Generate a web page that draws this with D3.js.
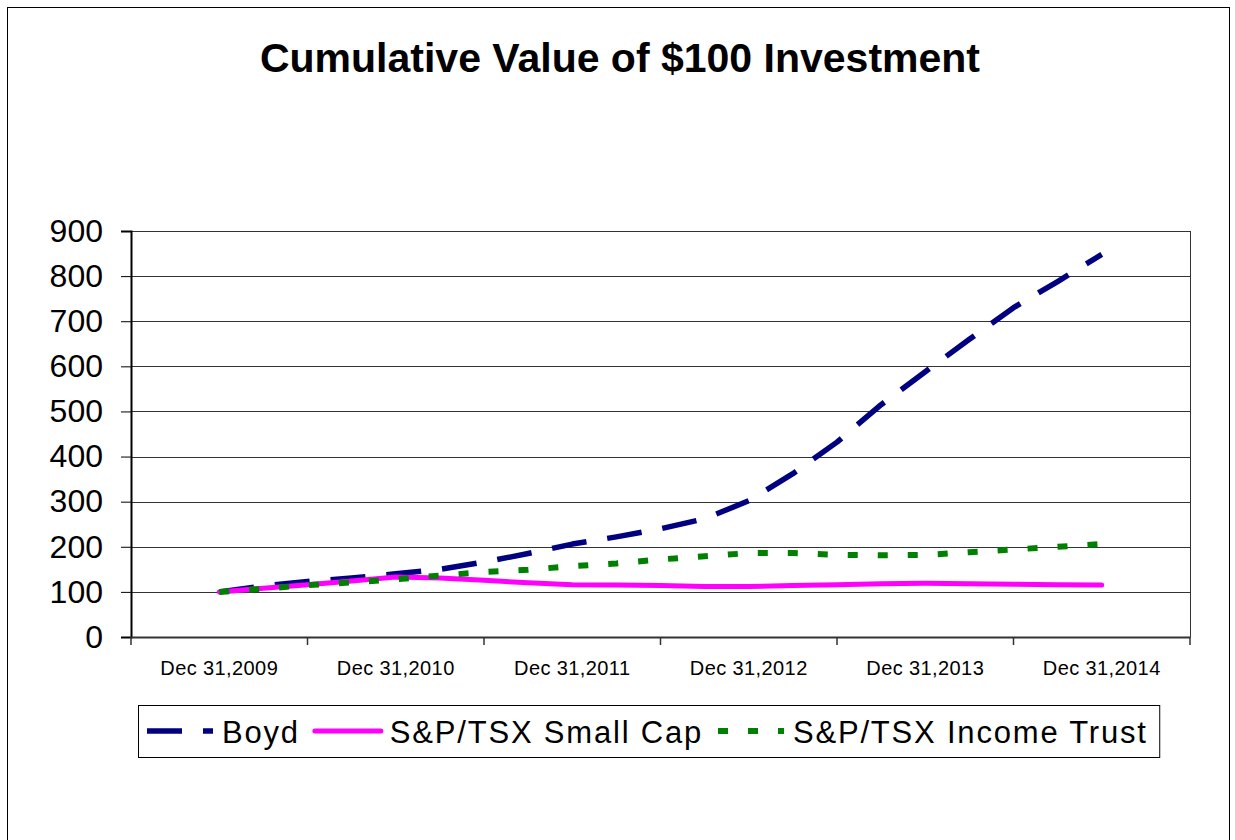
<!DOCTYPE html>
<html>
<head>
<meta charset="utf-8">
<script src="https://cdn.jsdelivr.net/npm/d3@7"></script>
<style>
    body { margin: 0; background: #fff; }
    svg { display: block; font-family: "Liberation Sans", Arial, sans-serif; }
</style>
</head>
<body>
<div id="chart"></div>
<script>
// category labels on the x axis
let years = ["Dec 31,2009", "Dec 31,2010", "Dec 31,2011", "Dec 31,2012", "Dec 31,2013", "Dec 31,2014"];
// quarterly observations, Dec 2009 .. Dec 2014
let quarters = ["2009Q4", "2010Q1", "2010Q2", "2010Q3", "2010Q4", "2011Q1", "2011Q2", "2011Q3", "2011Q4",
    "2012Q1", "2012Q2", "2012Q3", "2012Q4", "2013Q1", "2013Q2", "2013Q3", "2013Q4",
    "2014Q1", "2014Q2", "2014Q3", "2014Q4"];
let boyd = [100, 113, 123, 131, 140, 150, 166, 185, 206, 222, 240, 262, 302, 362, 432, 515, 588, 660, 730, 788, 848];
let smallCap = [100, 108, 116, 124, 133, 131, 126, 120, 116, 115, 114, 112, 112, 114, 116, 118, 119, 118, 117, 116, 115];
let incomeTrust = [100, 107, 115, 121, 128, 136, 144, 149, 157, 163, 172, 179, 186, 186, 182, 181, 182, 188, 194, 200, 206];
let yTicks = [0, 100, 200, 300, 400, 500, 600, 700, 800, 900];

let series = [
    {name: "Boyd", values: boyd, color: "#000080", width: 5.5, dash: "35,21"},
    {name: "S&P/TSX Small Cap", values: smallCap, color: "#ff00ff", width: 5, dash: null},
    {name: "S&P/TSX Income Trust", values: incomeTrust, color: "#008000", width: 6, dash: "10,20"}
];

let W = 1235, H = 840;
let margin = {top: 231, right: 45, bottom: 203, left: 131};
let width = W - margin.left - margin.right;
let height = H - margin.top - margin.bottom;

let svg = d3.select("#chart").append("svg")
    .attr("width", W)
    .attr("height", H);

// outer frame
svg.append("rect")
    .attr("x", 7.5).attr("y", 7.5)
    .attr("width", 1222).attr("height", 845)
    .attr("fill", "none")
    .attr("stroke", "#000")
    .attr("stroke-width", 1);

svg.append("text")
    .attr("x", 620)
    .attr("y", 72)
    .attr("text-anchor", "middle")
    .style("font-size", "41px")
    .style("font-weight", "bold")
    .text("Cumulative Value of $100 Investment");

let g = svg.append("g")
    .attr("transform", `translate(${margin.left},${margin.top})`);

let x = d3.scaleBand().domain(years).range([0, width]);
let xq = d3.scaleLinear()
    .domain([0, quarters.length - 1])
    .range([x.bandwidth() / 2, width - x.bandwidth() / 2]);
let y = d3.scaleLinear().domain([0, 900]).range([height, 0]);

// gridlines
g.append("g")
    .selectAll("line")
    .data(yTicks.filter(d => d > 0))
    .enter().append("line")
    .attr("x1", 0).attr("x2", width)
    .attr("y1", d => Math.round(y(d)) + 0.5)
    .attr("y2", d => Math.round(y(d)) + 0.5)
    .attr("stroke", "#333")
    .attr("stroke-width", 1);

// right frame of plot
g.append("line")
    .attr("x1", width + 0.5).attr("x2", width + 0.5)
    .attr("y1", 0).attr("y2", height)
    .attr("stroke", "#333");

// y axis
let yAxis = g.append("g")
    .call(d3.axisLeft(y).tickValues(yTicks).tickSize(10).tickPadding(18));
yAxis.select(".domain").attr("stroke-width", 2);
yAxis.selectAll("text").style("font-size", "32px").attr("fill", "#000");

// x axis
let xAxis = g.append("g")
    .attr("transform", `translate(0,${height})`)
    .call(d3.axisBottom(x).tickSize(0).tickPadding(24));
xAxis.select(".domain").attr("stroke-width", 2).attr("stroke", "#333");
xAxis.selectAll("text")
    .style("font-size", "20px")
    .style("letter-spacing", "0.4px")
    .attr("fill", "#000");
xAxis.selectAll(".sep")
    .data(d3.range(years.length + 1))
    .enter().append("line")
    .attr("class", "sep")
    .attr("x1", i => i * x.step()).attr("x2", i => i * x.step())
    .attr("y1", 0).attr("y2", 8)
    .attr("stroke", "#333")
    .attr("stroke-width", 1.5);

// lines
let line = d3.line()
    .x((d, i) => xq(i))
    .y(d => y(d));

g.selectAll(".series")
    .data(series)
    .enter().append("path")
    .attr("class", "series")
    .attr("d", d => line(d.values))
    .attr("fill", "none")
    .attr("stroke", d => d.color)
    .attr("stroke-width", d => d.width)
    .attr("stroke-dasharray", d => d.dash)
    .attr("stroke-linejoin", "round")
    .attr("stroke-linecap", d => d.dash ? "butt" : "round");

// legend
let legend = svg.append("g");
let box = legend.append("rect")
    .attr("x", 138.5).attr("y", 705.5)
    .attr("height", 52)
    .attr("fill", "#fff")
    .attr("stroke", "#000")
    .attr("stroke-width", 1);

let lx = 147;
series.forEach(s => {
    legend.append("line")
        .attr("x1", lx).attr("x2", lx + 66)
        .attr("y1", 731).attr("y2", 731)
        .attr("stroke", s.color)
        .attr("stroke-width", s.width)
        .attr("stroke-dasharray", s.dash)
        .attr("stroke-linecap", s.dash ? "butt" : "round");
    let t = legend.append("text")
        .attr("x", lx + 75)
        .attr("y", 743)
        .style("font-size", "31px")
        .style("letter-spacing", "1.8px")
        .text(s.name);
    lx = lx + 75 + t.node().getComputedTextLength() + 15;
});
box.attr("width", lx - 15 + 12 - 138.5);
</script>
</body>
</html>
